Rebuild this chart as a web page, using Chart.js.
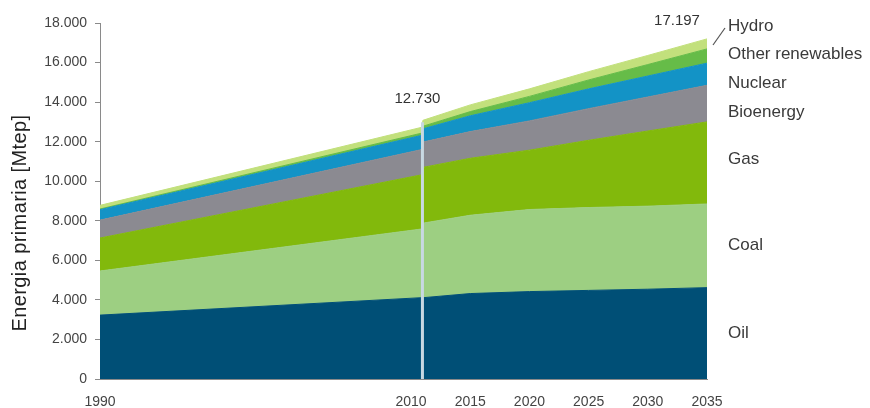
<!DOCTYPE html>
<html>
<head>
<meta charset="utf-8">
<script src="https://cdn.jsdelivr.net/npm/chart.js@4/dist/chart.umd.min.js"></script>
<style>
  html, body { margin: 0; padding: 0; background: #fff; }
  #wrap { width: 870px; height: 408px; }
</style>
</head>
<body>
<div id="wrap"><canvas id="energiaChart" width="870" height="408"></canvas></div>
<script>
// Años: histórico 1990-2010, proyección 2011-2035
const years = [1990, 2010, 2011, 2015, 2020, 2025, 2030, 2035];

// Demanda de energía primaria por fuente (Mtep)
const oil       = [3230, 4113, 4110, 4320, 4420, 4480, 4540, 4620];
const coal      = [2231, 3474, 3770, 3960, 4150, 4190, 4200, 4230];
const gas       = [1668, 2740, 2820, 2880, 3000, 3400, 3800, 4150];
const bioenergy = [905, 1277, 1280, 1350, 1480, 1600, 1720, 1850];
const nuclear   = [526, 719, 670, 800, 920, 1000, 1060, 1120];
const otherRen  = [36, 112, 130, 210, 320, 450, 580, 720];
const hydro     = [184, 295, 300, 340, 380, 420, 460, 507];

const seriesNames = ['Oil', 'Coal', 'Gas', 'Bioenergy', 'Nuclear', 'Other renewables', 'Hydro'];
const seriesData = [oil, coal, gas, bioenergy, nuclear, otherRen, hydro];
const seriesColors = ['#004f76', '#9dcf82', '#82b90c', '#8b8a91', '#1393c6', '#66bc48', '#c2e07c'];

const tickYears = [1990, 2010, 2015, 2020, 2025, 2030, 2035];
const yTicks = [0, 2000, 4000, 6000, 8000, 10000, 12000, 14000, 16000, 18000];

// El tramo histórico va más ancho que la proyección (dos escalas pegadas)
const HIST_UNITS = 27.2;
const GAP = 0.08;
function xPos(year) {
  if (year <= 2010) return (year - 1990) / 20 * HIST_UNITS;
  return HIST_UNITS + GAP + (year - 2011);
}
function labelPos(year) {
  return year <= 1990 ? 0 : HIST_UNITS + GAP + (year - 2011);
}

function fmt(n) {
  return String(Math.round(n)).replace(/\B(?=(\d{3})+(?!\d))/g, '.');
}
function total(i) {
  return seriesData.reduce((s, d) => s + d[i], 0);
}

const FONT = '"Liberation Sans", Arial, sans-serif';

const datasets = seriesData.map((d, k) => ({
  label: seriesNames[k],
  data: d.map((v, i) => ({ x: xPos(years[i]), y: v })),
  backgroundColor: seriesColors[k],
  borderColor: seriesColors[k],
  borderWidth: 1,
  pointRadius: 0,
  tension: 0,
  fill: k === 0 ? 'origin' : '-1'
}));

// Textos: etiquetas de series, totales y línea 2010/2011
const annotations = {
  id: 'annotations',
  afterDatasetsDraw(chart) {
    const { ctx } = chart;
    const x = chart.scales.x, y = chart.scales.y;
    const last = years.length - 1;
    const iHist = years.indexOf(2010), iProj = years.indexOf(2011);

    // línea vertical entre histórico y proyección
    const lx = x.getPixelForValue((xPos(2010) + xPos(2011)) / 2);
    ctx.save();
    ctx.strokeStyle = '#c8d8e2';
    ctx.lineWidth = 3;
    ctx.beginPath();
    ctx.moveTo(lx, y.getPixelForValue(total(iProj)) + 2);
    ctx.lineTo(lx, y.getPixelForValue(0));
    ctx.stroke();

    ctx.fillStyle = '#333';
    ctx.font = '15px ' + FONT;
    ctx.textAlign = 'center';
    ctx.textBaseline = 'middle';
    ctx.fillText(fmt(total(iHist)), lx - 5, y.getPixelForValue(total(iHist)) - 28);
    const rx = x.getPixelForValue(xPos(years[last]));
    ctx.fillText(fmt(total(last)), rx - 30, y.getPixelForValue(total(last)) - 18);

    // nombres de las series a la derecha
    ctx.font = '17px ' + FONT;
    ctx.textAlign = 'left';
    ctx.fillStyle = '#3a3a3a';
    const tx = rx + 21;
    let base = 0;
    const centers = seriesData.map(d => {
      const c = base + d[last] / 2;
      base += d[last];
      return y.getPixelForValue(c);
    });
    ctx.fillText('Oil', tx, centers[0]);
    ctx.fillText('Coal', tx, centers[1]);
    ctx.fillText('Gas', tx, centers[2] - 4);
    const topLabels = ['Bioenergy', 'Nuclear', 'Other renewables', 'Hydro'];
    topLabels.forEach((t, i) => ctx.fillText(t, tx, 112 - i * 28.7));

    ctx.strokeStyle = '#555';
    ctx.lineWidth = 1.2;
    ctx.beginPath();
    ctx.moveTo(rx + 6, 45);
    ctx.lineTo(rx + 18, 28);
    ctx.stroke();

    // título del eje Y
    ctx.translate(20, 223);
    ctx.rotate(-Math.PI / 2);
    ctx.textAlign = 'center';
    ctx.fillStyle = '#222';
    ctx.font = '20px ' + FONT;
    ctx.letterSpacing = '0.4px';
    ctx.fillText('Energia primaria [Mtep]', 0, 0);
    ctx.restore();
  }
};

new Chart(document.getElementById('energiaChart'), {
  type: 'line',
  data: { datasets },
  options: {
    responsive: false,
    animation: false,
    layout: { padding: { top: 23, right: 163, left: 0, bottom: 0 } },
    plugins: { legend: { display: false }, tooltip: { enabled: false } },
    scales: {
      x: {
        type: 'linear',
        min: 0,
        max: xPos(2035),
        grid: { drawOnChartArea: false, drawTicks: false },
        border: { display: true, color: '#8a8a8a', width: 1 },
        afterBuildTicks: axis => { axis.ticks = tickYears.map(yr => ({ value: labelPos(yr) })); },
        afterFit: scale => { scale.height = 29; },
        ticks: {
          autoSkip: false,
          maxRotation: 0,
          padding: 15,
          color: '#444',
          font: { family: FONT, size: 14 },
          callback: (v, i) => String(tickYears[i])
        }
      },
      y: {
        stacked: true,
        min: 0,
        max: 18000,
        grid: { drawOnChartArea: false, drawTicks: true, tickLength: 5, color: '#8a8a8a' },
        border: { display: true, color: '#8a8a8a', width: 1 },
        afterBuildTicks: axis => { axis.ticks = yTicks.map(v => ({ value: v })); },
        afterFit: scale => { scale.width = 100; },
        ticks: {
          padding: 8,
          color: '#444',
          font: { family: FONT, size: 14 },
          callback: v => fmt(v)
        }
      }
    }
  },
  plugins: [annotations]
});
</script>
</body>
</html>
